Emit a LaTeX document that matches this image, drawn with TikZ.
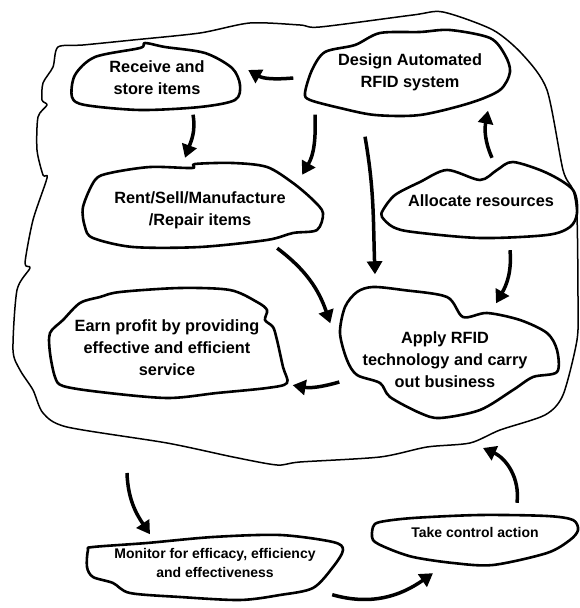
\documentclass[tikz,border=0pt]{standalone}
\usepackage{fontspec}
\setmainfont{Liberation Sans}
\usetikzlibrary{arrows.meta}

\begin{document}
\begin{tikzpicture}[x=1pt,y=1pt,
  blob/.style={line width=2.6pt,line join=round},
  rim/.style={line width=1.5pt,line join=round},
  box/.style={align=center,inner sep=0pt,font=\bfseries\fontsize{16.3}{22}\selectfont},
  smallbox/.style={box,font=\bfseries\fontsize{14}{19}\selectfont},
  flow/.style={line width=3.5pt,-{Triangle[length=13pt,width=15pt]}}]
\useasboundingbox (0,0) rectangle (579,608);

\draw[rim] plot[smooth cycle,tension=0.45] coordinates {(58,561) (83,563) (133,568) (200,575) (250,585) (300,583) (320,581) (413,593) (443,596) (493,578) (523,553) (547,518) (563,438) (573,418) (577,391) (578,308) (577,268) (563,213) (545,193) (500,178) (470,165) (427,161) (380,151) (300,146) (277,143) (233,151) (167,165) (67,181) (43,195) (33,218) (20,238) (13,258) (17,318) (30,340) (25,345) (33,388) (47,430) (43,433) (37,458) (38,491) (47,503) (42,508) (43,525) (53,541)};

\draw[blob] plot[smooth cycle,tension=0.5] coordinates {(72,511) (75,533) (95,551) (140,560) (145,565) (165,561) (205,555) (232,540) (240,523) (235,508) (200,501) (140,498) (85,503)};
\draw[blob] plot[smooth cycle,tension=0.5] coordinates {(305,515) (312,538) (325,556) (355,563) (380,575) (420,576) (450,578) (490,570) (505,553) (510,536) (500,518) (470,505) (420,493) (375,493) (340,500) (310,508)};
\draw[blob] plot[smooth cycle,tension=0.5] coordinates {(83,401) (95,428) (110,435) (150,441) (192,440) (195,444) (233,445) (267,441) (293,425) (313,408) (323,395) (317,378) (293,375) (267,368) (200,361) (133,361) (93,370) (85,381)};
\draw[blob] plot[smooth cycle,tension=0.5] coordinates {(383,398) (395,413) (420,426) (447,438) (480,428) (497,438) (513,446) (547,435) (573,418) (577,395) (570,381) (547,373) (480,370) (413,376) (393,381) (382,391)};
\draw[blob] plot[smooth cycle,tension=0.5] coordinates {(50,275) (63,288) (80,305) (100,311) (120,316) (180,320) (230,318) (257,306) (267,298) (265,288) (273,281) (277,268) (283,241) (287,225) (267,220) (217,215) (167,210) (100,216) (63,222) (55,231) (50,255)};
\draw[blob] plot[smooth cycle,tension=0.5] coordinates {(340,275) (345,301) (357,316) (373,321) (403,318) (447,311) (463,291) (487,295) (520,288) (547,275) (557,258) (557,236) (533,231) (513,218) (480,198) (440,190) (420,195) (390,211) (380,225) (357,233) (347,248)};
\draw[blob] plot[smooth cycle,tension=0.5] coordinates {(88,58) (93,61) (147,65) (213,71) (280,73) (333,66) (343,58) (333,41) (313,20) (280,13) (240,8) (180,11) (130,15) (113,25) (93,31) (87,41)};
\draw[blob] plot[smooth cycle,tension=0.5] coordinates {(373,81) (380,86) (413,90) (480,93) (547,92) (573,88) (578,78) (570,68) (547,55) (493,43) (453,45) (413,51) (387,60) (373,68)};

\node[box,minimum width=168pt,minimum height=67pt] (receive) at (157,530) {Receive and\\store items};
\node[box,minimum width=205pt,minimum height=85pt] (design) at (410,536) {Design Automated\\RFID system};
\node[box,minimum width=240pt,minimum height=82pt] (rent) at (200,398) {Rent/Sell/Manufacture\\/Repair items};
\node[box,minimum width=195pt,minimum height=76pt] (allocate) at (481,407) {Allocate resources};
\node[box,minimum width=237pt,minimum height=110pt] (earn) at (167,260) {Earn profit by providing\\effective and efficient\\service};
\node[box,minimum width=217pt,minimum height=131pt] (apply) at (445,248) {Apply RFID\\technology and carry\\out business};
\node[smallbox,minimum width=256pt,minimum height=65pt] (monitor) at (215,45) {Monitor for efficacy, efficiency\\and effectiveness};
\node[smallbox,minimum width=205pt,minimum height=50pt] (take) at (475,76) {Take control action};

\coordinate (rimout) at (127,135);
\coordinate (rimin) at (483,160);

\draw[flow] ([shift={(-14,-6)}]design.west) to[out=185,in=-30] ([shift={(7,8)}]receive.east);
\draw[flow] ([shift={(36,-3)}]receive.south) to[out=-80,in=70] ([shift={(-15,11)}]rent.north);
\draw[flow] ([shift={(-95,0)}]design.south) to[out=-88,in=60] ([shift={(-18,-6)}]rent.north east);
\draw[flow] ([shift={(-45,-22)}]design.south) to[out=-80,in=92] ([shift={(-70,20)}]apply.north);
\draw[flow] ([shift={(11,5)}]allocate.north) to[out=114,in=-101] ([shift={(78,4)}]design.south);
\draw[flow] ([shift={(29,-11)}]allocate.south) to[out=-85,in=60] ([shift={(51,-9)}]apply.north);
\draw[flow] ([shift={(-43,3)}]rent.south east) to[out=-37,in=109] ([shift={(-6,-29)}]apply.north west);
\draw[flow] ([shift={(3,-22)}]apply.west) to[out=-164,in=-10] ([shift={(7,18)}]earn.south east);
\draw[flow] (rimout) to[out=-88,in=124] ([shift={(-65,-4)}]monitor.north);
\draw[flow] ([shift={(-11,1)}]monitor.south east) to[out=-16,in=215] ([shift={(-42,-16)}]take.south);
\draw[flow] ([shift={(42,4)}]take.north) to[out=83,in=-24] (rimin);
\end{tikzpicture}
\end{document}
